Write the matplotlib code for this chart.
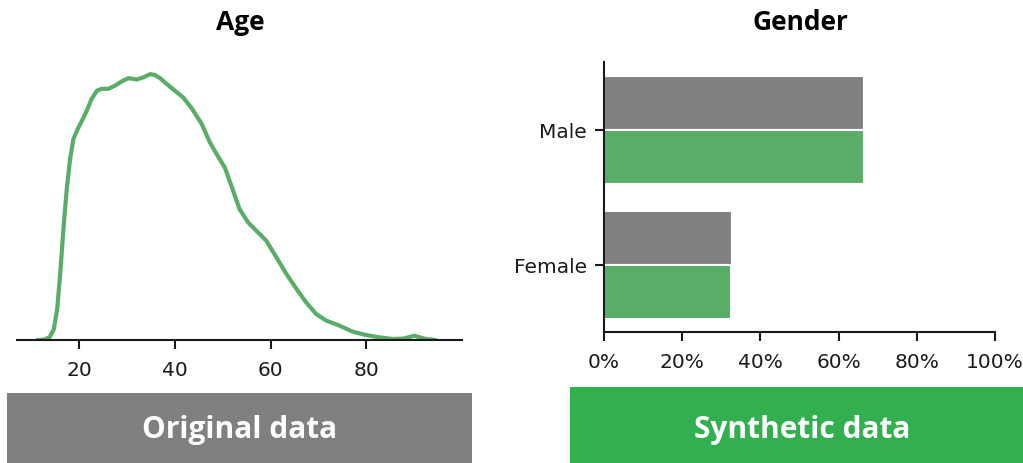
import matplotlib
matplotlib.use("Agg")
import matplotlib.pyplot as plt
from matplotlib.patches import Rectangle

plt.rcParams['font.family'] = ['Open Sans', 'DejaVu Sans']

# ---- Data ----
age_x = [11.2, 12.6, 13.8, 14.7, 15.4, 16.0, 16.7, 17.4, 18.1, 18.8, 19.7, 20.6,
         21.6, 22.6, 23.7, 24.7, 26.1, 27.5, 28.9, 30.3, 32.0, 33.4, 34.8, 35.8,
         36.9, 38.3, 39.7, 41.7, 43.5, 45.6, 47.3, 48.7, 50.4, 51.8, 53.5, 55.3,
         57.0, 59.1, 61.2, 63.3, 65.4, 67.4, 69.5, 71.6, 74.4, 77.2, 79.9, 82.7,
         85.5, 87.6, 89.0, 90.0, 91.0, 92.4, 94.5]
age_density = [0.0, 0.001, 0.010, 0.041, 0.117, 0.242, 0.417, 0.568, 0.680, 0.756,
               0.793, 0.825, 0.862, 0.906, 0.937, 0.944, 0.944, 0.956, 0.972, 0.984,
               0.979, 0.987, 0.999, 0.996, 0.984, 0.962, 0.941, 0.912, 0.871, 0.812,
               0.743, 0.699, 0.649, 0.580, 0.492, 0.442, 0.411, 0.373, 0.311, 0.248,
               0.192, 0.142, 0.098, 0.073, 0.054, 0.031, 0.019, 0.010, 0.004, 0.005,
               0.011, 0.016, 0.011, 0.004, 0.0]
age_ticks = [20, 40, 60, 80]

gender_categories = ["Male", "Female"]
gender_original = [0.665, 0.328]
gender_synthetic = [0.665, 0.326]
pct_ticks = [0, 0.2, 0.4, 0.6, 0.8, 1.0]

GRAY = "#808080"
GREEN = "#58AD69"
BOX_GREEN = "#32B04F"
W, H = 1023, 464
TICK_FONT = dict(family='DejaVu Sans', size=14.5)

fig = plt.figure(figsize=(W / 100, H / 100), dpi=100)

def fx(px):
    return px / W

def fy(py):
    return 1 - py / H

# ---- Left: Age density ----
ax1 = fig.add_axes([fx(17), fy(341), fx(462) - fx(17), fy(60) - fy(341)])
ax1.plot(age_x, age_density, color=GREEN, lw=3.0, solid_capstyle='round')
ax1.set_xlim(7, 100)
ax1.set_ylim(0, 1.056)
ax1.set_xticks(age_ticks)
ax1.set_yticks([])
for s in ['left', 'right', 'top']:
    ax1.spines[s].set_visible(False)
ax1.spines['bottom'].set_linewidth(1.5)
ax1.spines['bottom'].set_color('#1a1a1a')
ax1.tick_params(axis='x', length=6.5, width=1.5, pad=8, color='#1a1a1a')
for lab in ax1.get_xticklabels():
    lab.set_fontproperties(TICK_FONT)
    lab.set_color('#1a1a1a')

# ---- Right: Gender bars ----
ax2 = fig.add_axes([fx(604), fy(333), fx(995) - fx(604), fy(63) - fy(333)])
ypos = list(range(len(gender_categories)))
ax2.barh([y - 0.2 for y in ypos], gender_original, height=0.4, color=GRAY,
         edgecolor='white', linewidth=1.5)
ax2.barh([y + 0.2 for y in ypos], gender_synthetic, height=0.4, color=GREEN,
         edgecolor='white', linewidth=1.5)
ax2.set_yticks(ypos)
ax2.set_yticklabels(gender_categories)
ax2.set_ylim(1.5, -0.5)
ax2.set_xlim(0, 1)
ax2.set_xticks(pct_ticks)
ax2.set_xticklabels([f"{v*100:.0f}%" for v in pct_ticks])
for s in ['right', 'top']:
    ax2.spines[s].set_visible(False)
for s in ['left', 'bottom']:
    ax2.spines[s].set_linewidth(1.5)
    ax2.spines[s].set_color('#1a1a1a')
ax2.tick_params(length=6.5, width=1.5, color='#1a1a1a')
ax2.tick_params(axis='x', pad=8)
ax2.tick_params(axis='y', pad=6)
for lab in ax2.get_xticklabels() + ax2.get_yticklabels():
    lab.set_fontproperties(TICK_FONT)
    lab.set_color('#1a1a1a')

# ---- Titles ----
fig.text(fx(240), fy(30), "Age", ha='center', va='baseline', fontsize=19,
         fontweight='bold')
fig.text(fx(800), fy(30), "Gender", ha='center', va='baseline', fontsize=19,
         fontweight='bold')

# ---- Bottom labels ----
fig.patches.append(Rectangle((fx(7), 0), fx(472) - fx(7), fy(394), transform=fig.transFigure,
                             facecolor=GRAY, edgecolor='none', zorder=0))
fig.patches.append(Rectangle((fx(570), 0), 1 - fx(570), fy(388), transform=fig.transFigure,
                             facecolor=BOX_GREEN, edgecolor='none', zorder=0))
fig.text(fx(240), fy(438), "Original data", ha='center', va='baseline', fontsize=21.5,
         fontweight='bold', color='white')
fig.text(fx(802), fy(438), "Synthetic data", ha='center', va='baseline', fontsize=21.5,
         fontweight='bold', color='white')

fig.savefig("out.png", dpi=100)
